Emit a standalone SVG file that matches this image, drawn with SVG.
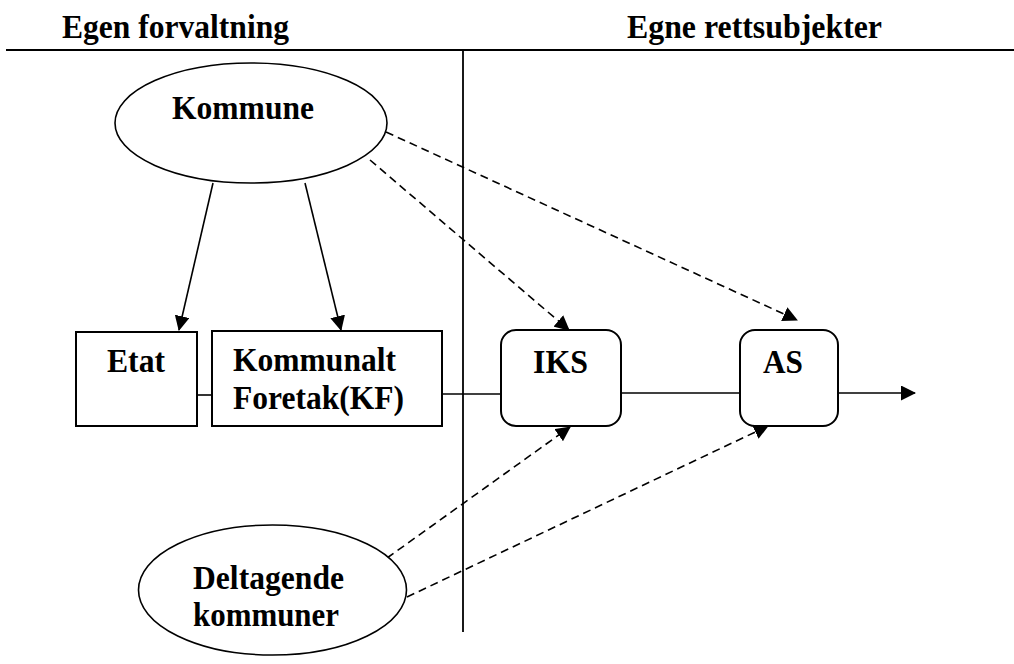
<svg xmlns="http://www.w3.org/2000/svg" width="1014" height="664" viewBox="0 0 1014 664">
<defs>
<marker id="arr" markerWidth="15" markerHeight="15" refX="14" refY="7.5" orient="auto" markerUnits="userSpaceOnUse" viewBox="0 0 15 15">
<path d="M0,0 L15,7.5 L0,15 z" fill="#000"/>
</marker>
<style>
.t{font-family:"Liberation Serif","Times New Roman",serif;font-weight:bold;font-size:34px;fill:#000}
.shape{fill:#fff;stroke:#000;stroke-width:2}
.ell{fill:#fff;stroke:#000;stroke-width:1.6}
.ln{fill:none;stroke:#000;stroke-width:1.6}
.dash{fill:none;stroke:#000;stroke-width:1.6;stroke-dasharray:8 5}
</style>
</defs>
<rect width="1014" height="664" fill="#fff"/>
<g id="header">
<text class="t" x="62" y="38" textLength="227" lengthAdjust="spacingAndGlyphs">Egen forvaltning</text>
<text class="t" x="627" y="38" textLength="255" lengthAdjust="spacingAndGlyphs">Egne rettsubjekter</text>
<line x1="6" y1="50" x2="1014" y2="50" stroke="#000" stroke-width="2.2"/>
<line x1="463" y1="50" x2="463" y2="632" stroke="#000" stroke-width="1.8"/>
</g>
<g id="connectors">
<line class="ln" x1="197" y1="395" x2="212" y2="395"/>
<line class="ln" x1="442" y1="394" x2="501" y2="394"/>
<line class="ln" x1="621" y1="393" x2="740" y2="393"/>
<line class="ln" x1="838" y1="393" x2="915" y2="393" marker-end="url(#arr)"/>
<line class="ln" x1="213" y1="183" x2="179" y2="330" marker-end="url(#arr)"/>
<line class="ln" x1="305" y1="183" x2="341" y2="330" marker-end="url(#arr)"/>
<line class="dash" x1="386" y1="132" x2="797" y2="320" marker-end="url(#arr)"/>
<line class="dash" x1="370" y1="160" x2="569" y2="330" marker-end="url(#arr)"/>
<line class="dash" x1="387" y1="558" x2="570" y2="427" marker-end="url(#arr)"/>
<line class="dash" x1="407" y1="597" x2="768" y2="426" marker-end="url(#arr)"/>
</g>
<g id="kommune">
<ellipse class="ell" cx="251" cy="123" rx="136" ry="60"/>
<text class="t" x="172" y="119" textLength="142" lengthAdjust="spacingAndGlyphs">Kommune</text>
</g>
<g id="etat">
<rect class="shape" x="76" y="332" width="121" height="94"/>
<text class="t" x="107" y="372" textLength="58" lengthAdjust="spacingAndGlyphs">Etat</text>
</g>
<g id="kf">
<rect class="shape" x="212" y="331" width="230" height="95"/>
<text class="t" x="233" y="371" textLength="163" lengthAdjust="spacingAndGlyphs">Kommunalt</text>
<text class="t" x="233" y="409" textLength="171" lengthAdjust="spacingAndGlyphs">Foretak(KF)</text>
</g>
<g id="iks">
<rect class="shape" x="501" y="330" width="120" height="96" rx="15" ry="15"/>
<text class="t" x="533" y="373" textLength="55" lengthAdjust="spacingAndGlyphs">IKS</text>
</g>
<g id="as">
<rect class="shape" x="740" y="330" width="98" height="96" rx="15" ry="15"/>
<text class="t" x="763" y="373" textLength="40" lengthAdjust="spacingAndGlyphs">AS</text>
</g>
<g id="deltagende">
<ellipse class="ell" cx="272.5" cy="590" rx="134" ry="65"/>
<text class="t" x="193" y="589" textLength="151" lengthAdjust="spacingAndGlyphs">Deltagende</text>
<text class="t" x="193" y="626" textLength="146" lengthAdjust="spacingAndGlyphs">kommuner</text>
</g>
</svg>
